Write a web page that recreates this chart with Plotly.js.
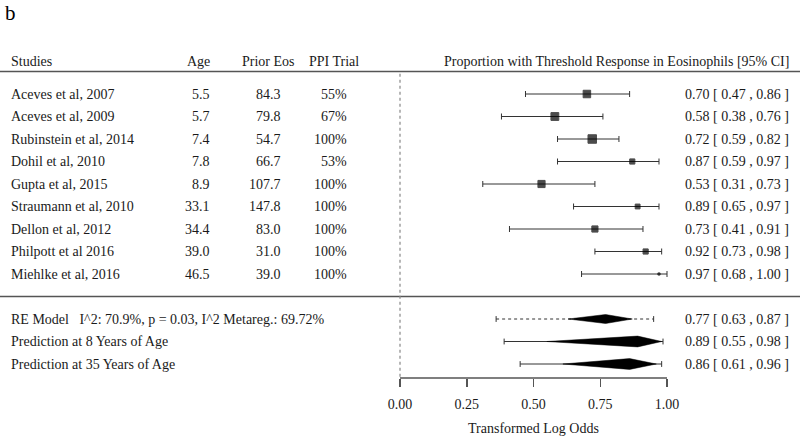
<!DOCTYPE html>
<html>
<head>
<meta charset="utf-8">
<script src="https://cdn.plot.ly/plotly-3.0.1.min.js"></script>
<style>html,body{margin:0;padding:0;background:#fff;}#chart{width:800px;height:437px;}</style>
</head>
<body>
<div id="chart"></div>
<script>
// ---- data ----
const studies = ['Aceves et al, 2007','Aceves et al, 2009','Rubinstein et al, 2014','Dohil et al, 2010','Gupta et al, 2015','Straumann et al, 2010','Dellon et al, 2012','Philpott et al 2016','Miehlke et al, 2016'];
const age = ['5.5','5.7','7.4','7.8','8.9','33.1','34.4','39.0','46.5'];
const priorEos = ['84.3','79.8','54.7','66.7','107.7','147.8','83.0','31.0','39.0'];
const ppiTrial = ['55%','67%','100%','53%','100%','100%','100%','100%','100%'];
const est = [0.70,0.58,0.72,0.87,0.53,0.89,0.73,0.92,0.97];
const ciLo = [0.47,0.38,0.59,0.59,0.31,0.65,0.41,0.73,0.68];
const ciHi = [0.86,0.76,0.82,0.97,0.73,0.97,0.91,0.98,1.00];
const relWeight = [12.0,12.5,13.5,8.5,11.5,8.0,10.0,8.5,4.0];

const summaryLabels = ['RE Model\u00a0\u00a0\u00a0I^2: 70.9%, p = 0.03, I^2 Metareg.: 69.72%','Prediction at 8 Years of Age','Prediction at 35 Years of Age'];
const sumEst = [0.77,0.89,0.86];
const sumLo = [0.63,0.55,0.61];
const sumHi = [0.87,0.98,0.96];
const piLo = [0.36,0.39,0.45];
const piHi = [0.95,0.985,0.98];

const tickVals = [0,0.25,0.5,0.75,1];
const tickText = ['0.00','0.25','0.50','0.75','1.00'];

const headers = ['Studies','Age','Prior Eos','PPI Trial','Proportion with Threshold Response in Eosinophils [95% CI]'];

// ---- rows ----
const studyRows = studies.map((s,i)=>i);
const sumRows = [10,11,12];

const FONT = 'Liberation Serif, Times New Roman, serif';
const TXT = '#1a1a1a';
const LINE = '#555';

const traces = [];
// study points with CIs
traces.push({
  type:'scatter', mode:'markers', x:est, y:studyRows,
  marker:{symbol:'square', color:'#000', size:relWeight.map(w=>w/1.5 - 0.5), line:{width:1, color:'#000'}},
  error_x:{type:'data', symmetric:false, array:est.map((e,i)=>ciHi[i]-e), arrayminus:est.map((e,i)=>e-ciLo[i]), color:'#333', thickness:1, width:3},
  hoverinfo:'skip', showlegend:false
});
// prediction interval lines
summaryLabels.forEach((lab,i)=>{
  traces.push({
    type:'scatter', mode:'lines', x:[piLo[i],piHi[i]], y:[sumRows[i],sumRows[i]],
    line:{color:'#333', width:1, dash: i===0 ? 'dot':'solid'},
    error_y:{type:'constant', value:0.13, color:'#333', thickness:1, width:0},
    hoverinfo:'skip', showlegend:false
  });
});
// diamonds
summaryLabels.forEach((lab,i)=>{
  const k = sumRows[i], h = i===0 ? 0.2 : 0.24;
  traces.push({
    type:'scatter', mode:'lines', fill:'toself', fillcolor:'#000',
    x:[sumLo[i],sumEst[i],sumHi[i],sumEst[i],sumLo[i]],
    y:[k,k-h,k,k+h,k],
    line:{color:'#000', width:0.5},
    hoverinfo:'skip', showlegend:false
  });
});

const ann = [];
function txt(px, y, text, anchor, size){
  ann.push({xref:'paper', yref:'y', x:px/800, y:y, text:text, showarrow:false,
    xanchor:anchor, yanchor:'middle', font:{family:FONT, size:size||14, color:TXT}});
}
const hdrY = -1.45;
txt(9, hdrY, headers[0], 'left');
txt(212, hdrY, headers[1], 'right');
txt(268, hdrY, headers[2], 'center');
txt(334, hdrY, headers[3], 'center');
txt(791, hdrY, headers[4], 'right');
studies.forEach((s,i)=>{
  const k = studyRows[i];
  txt(9, k, s, 'left');
  txt(212, k, age[i], 'right');
  txt(283, k, priorEos[i], 'right');
  txt(349, k, ppiTrial[i], 'right');
  txt(791, k, est[i].toFixed(2)+' [ '+ciLo[i].toFixed(2)+' , '+ciHi[i].toFixed(2)+' ]', 'right');
});
summaryLabels.forEach((s,i)=>{
  const k = sumRows[i];
  txt(9, k, s, 'left');
  txt(791, k, sumEst[i].toFixed(2)+' [ '+sumLo[i].toFixed(2)+' , '+sumHi[i].toFixed(2)+' ]', 'right');
});
ann.push({xref:'paper', yref:'paper', x:3/800, y:(378+1)/378, text:'b', showarrow:false,
  xanchor:'left', yanchor:'top', font:{family:FONT, size:21, color:'#000'}});
ann.push({xref:'x', yref:'paper', x:0.5, y:(378-428)/378, text:'Transformed Log Odds', showarrow:false,
  xanchor:'center', yanchor:'middle', font:{family:FONT, size:14, color:TXT}});

const shapes = [
  {type:'line', xref:'paper', yref:'y', x0:0, x1:1, y0:-1, y1:-1, line:{color:LINE, width:1.5}},
  {type:'line', xref:'paper', yref:'y', x0:0, x1:1, y0:9, y1:9, line:{color:LINE, width:1.5}},
  {type:'line', xref:'x', yref:'y', x0:0, x1:0, y0:-0.9, y1:12.62, line:{color:'#888', width:1.2, dash:'dot'}},
  {type:'line', xref:'x', yref:'paper', x0:0, x1:1, y0:0, y1:0, line:{color:LINE, width:1.5}}
];

const layout = {
  width:800, height:437,
  margin:{l:0, r:0, t:0, b:59, pad:0},
  paper_bgcolor:'#fff', plot_bgcolor:'#fff',
  showlegend:false,
  xaxis:{range:[-400/267, 400/267], showgrid:false, zeroline:false, showline:false,
    tickmode:'array', tickvals:tickVals, ticktext:tickText, ticks:'outside', ticklen:8,
    ticklabelstandoff:5,
    tickwidth:1.5, tickcolor:LINE, tickfont:{family:FONT, size:14, color:TXT}, fixedrange:true},
  yaxis:{range:[(378-94)/22.5, (0-94)/22.5], visible:false, showgrid:false, zeroline:false, fixedrange:true},
  annotations:ann, shapes:shapes
};

Plotly.newPlot('chart', traces, layout, {displayModeBar:false, staticPlot:true});
</script>
</body>
</html>
